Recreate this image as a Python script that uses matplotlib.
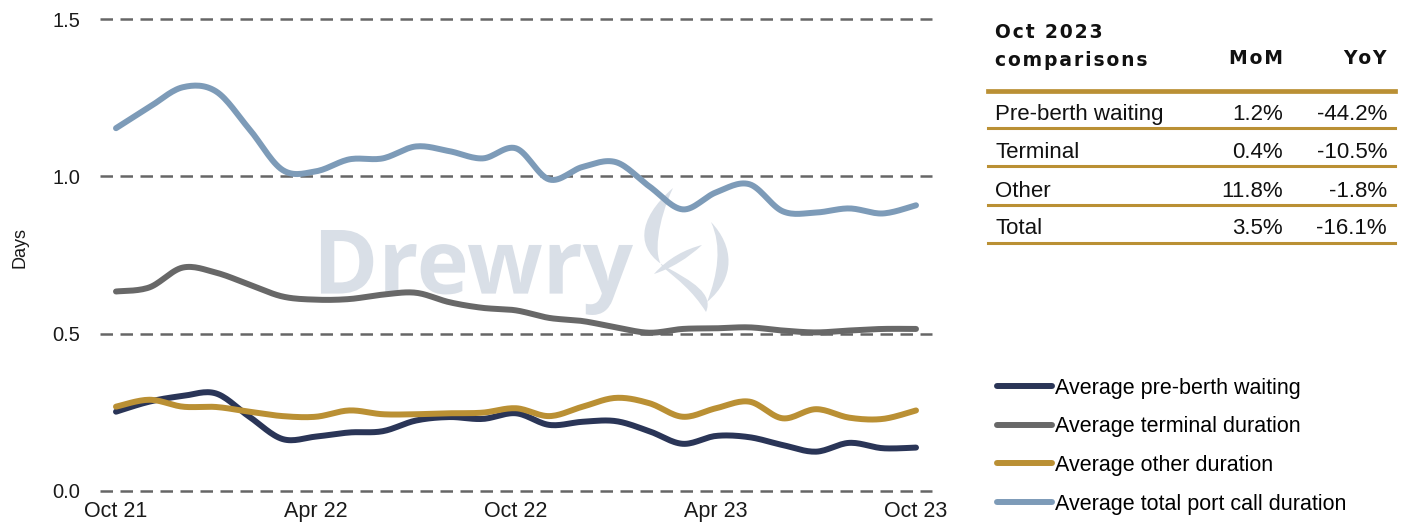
import numpy as np
import matplotlib.pyplot as plt
from matplotlib.lines import Line2D
from matplotlib.path import Path
from matplotlib.patches import PathPatch
from matplotlib.textpath import TextPath
from matplotlib.font_manager import FontProperties

plt.rcParams['font.family'] = ['Liberation Sans', 'DejaVu Sans']

months = ['Oct 21', 'Nov 21', 'Dec 21', 'Jan 22', 'Feb 22', 'Mar 22', 'Apr 22',
          'May 22', 'Jun 22', 'Jul 22', 'Aug 22', 'Sep 22', 'Oct 22', 'Nov 22',
          'Dec 22', 'Jan 23', 'Feb 23', 'Mar 23', 'Apr 23', 'May 23', 'Jun 23',
          'Jul 23', 'Aug 23', 'Sep 23', 'Oct 23']

pre_berth = [0.252, 0.284, 0.302, 0.310, 0.236, 0.165, 0.173, 0.186, 0.190, 0.224,
             0.235, 0.229, 0.247, 0.210, 0.220, 0.222, 0.190, 0.150, 0.175, 0.171,
             0.146, 0.125, 0.153, 0.136, 0.138]
terminal = [0.634, 0.647, 0.710, 0.694, 0.656, 0.618, 0.608, 0.610, 0.624, 0.630,
            0.600, 0.582, 0.574, 0.550, 0.540, 0.520, 0.503, 0.515, 0.517, 0.520,
            0.510, 0.504, 0.510, 0.515, 0.515]
other = [0.268, 0.290, 0.268, 0.267, 0.252, 0.238, 0.236, 0.256, 0.244, 0.244,
         0.247, 0.249, 0.263, 0.238, 0.268, 0.296, 0.279, 0.236, 0.263, 0.284,
         0.231, 0.260, 0.233, 0.229, 0.256]
total = [1.153, 1.220, 1.283, 1.270, 1.150, 1.020, 1.016, 1.054, 1.057, 1.095,
         1.080, 1.057, 1.089, 0.990, 1.030, 1.045, 0.968, 0.895, 0.949, 0.975,
         0.889, 0.885, 0.898, 0.882, 0.908]

series = [
    ('Average pre-berth waiting', pre_berth, '#2a3557'),
    ('Average terminal duration', terminal, '#686868'),
    ('Average other duration', other, '#ba9034'),
    ('Average total port call duration', total, '#7d9bb8'),
]

table_header = ['Oct 2023', 'comparisons', 'MoM', 'YoY']
table_rows = [
    ('Pre-berth waiting', '1.2%', '-44.2%'),
    ('Terminal', '0.4%', '-10.5%'),
    ('Other', '11.8%', '-1.8%'),
    ('Total', '3.5%', '-16.1%'),
]


def smooth(x, y, n=16):
    # excel-like smoothed line (catmull-rom bezier)
    x = np.asarray(x, float)
    y = np.asarray(y, float)
    t = np.linspace(0, 1, n, endpoint=False)[:, None]
    out = []
    for i in range(len(x) - 1):
        p = []
        for arr in (x, y):
            a0 = arr[max(i - 1, 0)]
            a1 = arr[i]
            a2 = arr[i + 1]
            a3 = arr[min(i + 2, len(arr) - 1)]
            c1 = a1 + (a2 - a0) / 6
            c2 = a2 - (a3 - a1) / 6
            p.append((1 - t) ** 3 * a1 + 3 * (1 - t) ** 2 * t * c1
                     + 3 * (1 - t) * t ** 2 * c2 + t ** 3 * a2)
        out.append(np.hstack(p))
    out.append([[x[-1], y[-1]]])
    out = np.vstack(out)
    return out[:, 0], out[:, 1]


W, H = 1404, 531


def fx(px):
    return px / W


def fy(py):
    return 1 - py / H


def spaced(s):
    return '\u200a'.join(s)


fig = plt.figure(figsize=(14.04, 5.31), dpi=100)
ax = fig.add_axes([100 / W, 40 / H, 832 / W, 472 / H])

# watermark: word fitted to its box, plus a rough flame
wm = '#d9dfe7'
tp = TextPath((0, 0), 'Drewry', size=100,
              prop=FontProperties(family='Open Sans', weight='bold'))
v = tp.vertices.copy()
x0, x1 = v[:, 0].min(), v[:, 0].max()
y0, y1 = v[:, 1].min(), v[:, 1].max()
px = 313 + (v[:, 0] - x0) / (x1 - x0) * 320
py = 230 + (y1 - v[:, 1]) / (y1 - y0) * 85
ax.add_artist(PathPatch(Path(np.column_stack([fx(px), fy(py)]), tp.codes),
                        transform=fig.transFigure, fc=wm, lw=0, zorder=0.5))

flame = [
    # tall left tongue
    [(673, 188), (636, 220), (636, 250), (666, 267), (692, 281), (714, 294), (706, 312),
     (692, 290), (678, 280), (664, 268), (652, 258), (658, 220), (673, 188)],
    # right tongue
    [(711, 222), (734, 246), (736, 278), (707, 302),
     (718, 274), (722, 246), (711, 222)],
    # small cross stroke
    [(654, 274), (668, 258), (686, 249), (702, 245),
     (688, 258), (672, 268), (654, 274)],
]
for pts in flame:
    n = len(pts)
    codes = [Path.MOVETO] + [Path.CURVE4] * (n - 1)
    pts = np.array(pts, float)
    ax.add_artist(PathPatch(Path(np.column_stack([fx(pts[:, 0]), fy(pts[:, 1])]), codes),
                            transform=fig.transFigure, fc=wm, lw=0, zorder=0.5))

xs = np.arange(len(months))
handles = []
for name, vals, col in series:
    sx, sy = smooth(xs, vals)
    ln, = ax.plot(sx, sy, color=col, lw=4.3, solid_capstyle='round',
                  label=name, zorder=3)
    handles.append(ln)

ax.set_ylim(0, 1.5)
ax.set_xlim(-0.48, 24.48)
ax.set_yticks([0, 0.5, 1.0, 1.5])
ax.set_yticklabels(['0.0', '0.5', '1.0', '1.5'])
ax.set_xticks(xs[::6])
ax.set_xticklabels(months[::6])
ax.tick_params(length=0, colors='#1a1a1a')
ax.tick_params(axis='y', labelsize=14.5, pad=14)
ax.tick_params(axis='x', labelsize=15.5, pad=7)
ax.yaxis.grid(True, color='#666666', ls=(0, (5, 3)), lw=1.8)
for gl in ax.get_ygridlines():
    gl.set_clip_on(False)
ax.set_axisbelow(True)
for s in ax.spines.values():
    s.set_visible(False)
ax.set_ylabel('Days', fontsize=13, color='#1a1a1a')
ax.yaxis.set_label_coords(-0.086, 0.515)

# comparison table
gold = '#ba9034'
hdr = dict(family='DejaVu Sans', fontweight='bold', fontsize=13.5,
           va='baseline', color='#111111')
fig.text(fx(995), fy(38), spaced(table_header[0]), ha='left', **hdr)
fig.text(fx(995), fy(66), spaced(table_header[1]), ha='left', **hdr)
fig.text(fx(1283), fy(64), spaced(table_header[2]), ha='right', **hdr)
fig.text(fx(1387), fy(64), spaced(table_header[3]), ha='right', **hdr)
fig.add_artist(Line2D([fx(988), fx(1395)], [fy(90.5), fy(90.5)], color=gold, lw=3.4))

row_base = [120, 158, 197, 234]
line_y = [127.5, 166, 205, 242.5]
for (lab, mom, yoy), ry, ly in zip(table_rows, row_base, line_y):
    fig.text(fx(995), fy(ry), lab, fontsize=16, ha='left', va='baseline', color='#111111')
    fig.text(fx(1283), fy(ry), mom, fontsize=16, ha='right', va='baseline', color='#111111')
    fig.text(fx(1387), fy(ry), yoy, fontsize=16, ha='right', va='baseline', color='#111111')
    fig.add_artist(Line2D([fx(988), fx(1395)], [fy(ly), fy(ly)], color=gold, lw=2.2))

fig.legend(handles=handles, loc='upper left', bbox_to_anchor=(fx(988), fy(369)),
           frameon=False, fontsize=15.5, handlelength=2.55, handletextpad=0.15,
           labelspacing=0.82, borderaxespad=0)

fig.savefig('out.png', dpi=100)
